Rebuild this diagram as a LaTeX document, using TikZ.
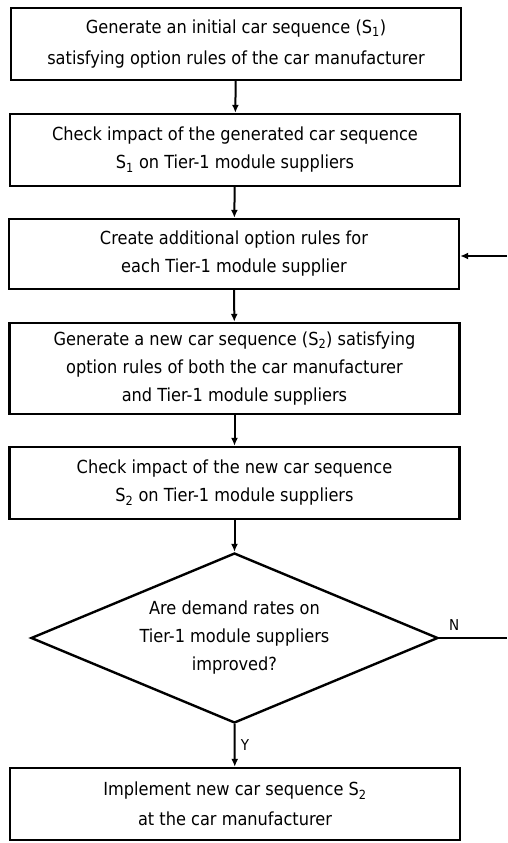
\documentclass[tikz,border=0pt]{standalone}
\usepackage{fontspec}
\setmainfont{DejaVu Sans Condensed}
\usetikzlibrary{arrows.meta}
\usetikzlibrary{shapes.geometric}

\tikzset{
  stepbox/.style={draw, line width=2.4pt, minimum width=450pt, minimum height=72pt, inner sep=0pt, align=center,
    font=\fontsize{18}{28}\selectfont},
  query/.style={draw, diamond, shape aspect=2.4, line width=2.4pt, minimum width=407pt, minimum height=170pt, inner sep=0pt, align=center,
    font=\fontsize{18}{28}\selectfont},
  flow/.style={line width=2pt, -{Latex[length=8pt, width=7pt]}},
  tag/.style={font=\fontsize{15}{16}\selectfont},
}

\begin{document}
\begin{tikzpicture}[x=1pt, y=-1pt]
\useasboundingbox (0,0) rectangle (507,843);
\node[stepbox, font=\fontsize{18}{31}\selectfont] (init) at (236,44) {Generate an initial car sequence (S\textsubscript{1})\\satisfying option rules of the car manufacturer};
\node[stepbox] (check1) at (235,150) {Check impact of the generated car sequence\\S\textsubscript{1} on Tier-1 module suppliers};
\node[stepbox, minimum height=70pt] (rules) at (234,254) {Create additional option rules for\\each Tier-1 module supplier};
\node[stepbox, minimum height=91pt] (newseq) at (234.5,368.5) {Generate a new car sequence (S\textsubscript{2}) satisfying\\option rules of both the car manufacturer\\and Tier-1 module suppliers};
\node[stepbox] (check2) at (234.5,483) {Check impact of the new car sequence\\S\textsubscript{2} on Tier-1 module suppliers};
\node[query] (improved) at (234.5,638) {Are demand rates on\\Tier-1 module suppliers\\improved?};
\node[stepbox, font=\fontsize{18}{30}\selectfont] (impl) at (235,804) {Implement new car sequence S\textsubscript{2}\\at the car manufacturer};
\coordinate (nout) at (507,638);
\coordinate (nin) at (507,256);
\draw[flow] (init) -- (check1);
\draw[flow] (check1) -- (rules);
\draw[flow] (rules) -- (newseq);
\draw[flow] (newseq) -- (check2);
\draw[flow] (check2.south) -- (improved.north);
\draw[flow] (improved.south) -- node[tag, right, xshift=2pt] {Y} (impl);
\draw[line width=2pt] (improved.east) -- node[tag, above, xshift=-19pt, yshift=3pt] {N} (nout);
\draw[flow] (nin) -- (rules.east |- nin);
\end{tikzpicture}
\end{document}
